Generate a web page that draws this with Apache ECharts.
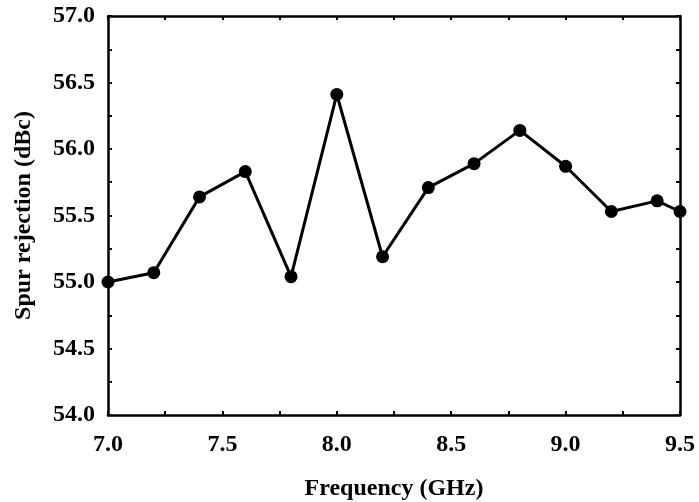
<!DOCTYPE html>
<html>
<head>
<meta charset="utf-8">
<script src="https://cdn.jsdelivr.net/npm/echarts@6/dist/echarts.min.js"></script>
<style>
  html, body { margin: 0; padding: 0; background: #fff; }
  #chart { width: 699px; height: 502px; }
</style>
</head>
<body>
<div id="chart"></div>
<script>
// frequency points (GHz) and measured spur rejection (dBc)
var freq = [7.0, 7.2, 7.4, 7.6, 7.8, 8.0, 8.2, 8.4, 8.6, 8.8, 9.0, 9.2, 9.4, 9.5];
var spur = [55.0, 55.07, 55.64, 55.83, 55.04, 56.41, 55.19, 55.71, 55.89, 56.14, 55.87, 55.53, 55.61, 55.53];

var font = 'Liberation Serif, Times New Roman, serif';

var chart = echarts.init(document.getElementById('chart'));

var tickLine = { color: '#000', width: 2 };

function mirrorAxis(pos) {
  return {
    type: 'value',
    position: pos,
    min: pos === 'top' ? 7 : 54,
    max: pos === 'top' ? 9.5 : 57,
    interval: 0.5,
    axisLine: { show: true, onZero: false, lineStyle: { color: '#000', width: 2.5 } },
    axisTick: { show: true, inside: true, length: 4, lineStyle: tickLine },
    minorTick: { show: true, splitNumber: 2, length: 4, lineStyle: tickLine },
    axisLabel: { show: false },
    splitLine: { show: false }
  };
}

var option = {
  backgroundColor: '#fff',
  animation: false,
  grid: { left: 108, right: 19, top: 16, bottom: 87, containLabel: false, outerBoundsMode: 'none' },
  xAxis: [
    {
      type: 'value',
      min: 7,
      max: 9.5,
      interval: 0.5,
      name: 'Frequency (GHz)',
      nameLocation: 'middle',
      nameGap: 62,
      nameTextStyle: { fontFamily: font, fontWeight: 'bold', fontSize: 24, color: '#000' },
      axisLine: { onZero: false, lineStyle: { color: '#000', width: 2.5 } },
      axisTick: { inside: true, length: 4, lineStyle: tickLine },
      minorTick: { show: true, splitNumber: 2, length: 4, lineStyle: tickLine },
      axisLabel: {
        margin: 18,
        fontFamily: font, fontWeight: 'bold', fontSize: 24, color: '#000',
        formatter: function (v) { return v.toFixed(1); }
      },
      splitLine: { show: false }
    },
    mirrorAxis('top')
  ],
  yAxis: [
    {
      type: 'value',
      min: 54,
      max: 57,
      interval: 0.5,
      name: 'Spur rejection (dBc)',
      nameLocation: 'middle',
      nameGap: 72,
      nameTextStyle: { fontFamily: font, fontWeight: 'bold', fontSize: 24, color: '#000' },
      axisLine: { show: true, onZero: false, lineStyle: { color: '#000', width: 2.5 } },
      axisTick: { inside: true, length: 4, lineStyle: tickLine },
      minorTick: { show: true, splitNumber: 2, length: 4, lineStyle: tickLine },
      axisLabel: {
        margin: 13,
        fontFamily: font, fontWeight: 'bold', fontSize: 24, color: '#000',
        formatter: function (v) { return v.toFixed(1); }
      },
      splitLine: { show: false }
    },
    mirrorAxis('right')
  ],
  series: [
    {
      type: 'line',
      data: freq.map(function (f, i) { return [f, spur[i]]; }),
      symbol: 'circle',
      symbolSize: 13,
      lineStyle: { color: '#000', width: 3 },
      itemStyle: { color: '#000' },
      clip: false
    }
  ]
};

chart.setOption(option);
</script>
</body>
</html>
